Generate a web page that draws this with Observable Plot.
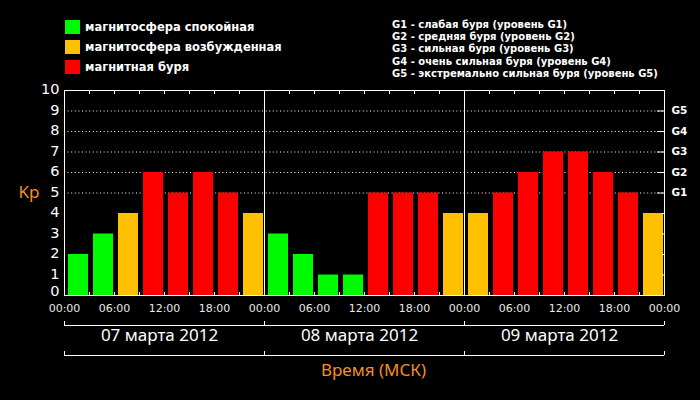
<!DOCTYPE html>
<html><head><meta charset="utf-8">
<script src="https://cdn.jsdelivr.net/npm/d3@7"></script>
<script src="https://cdn.jsdelivr.net/npm/@observablehq/plot@0.6"></script>
<style>
html,body{margin:0;padding:0;background:#000;}
#wrap{position:relative;width:700px;height:400px;background:#000;overflow:hidden;}
#legend{position:relative;height:80px;}
#lgL{position:absolute;left:65px;top:17px;font:bold 11.5px "DejaVu Sans";color:#fff;}
#lgL .row{display:flex;align-items:center;height:20px;}
#lgL .sw{width:15px;height:14px;margin-right:5px;}
#lgR{position:absolute;left:392px;top:19px;font:bold 10px "DejaVu Sans";color:#fff;line-height:12.2px;white-space:pre;}
svg{display:block;}
</style></head>
<body><div id="wrap"><div id="legend"><div id="lgL"></div><div id="lgR"></div></div><div id="chart"></div></div>
<script>
// ---- data ----
const dayLabels = ["07 марта 2012", "08 марта 2012", "09 марта 2012"];
const kp07 = [2, 3, 4, 6, 5, 6, 5, 4];
const kp08 = [3, 2, 1, 1, 5, 5, 5, 4];
const kp09 = [4, 5, 6, 7, 7, 6, 5, 4];
const levelKeys = ["quiet", "active", "storm"];
const levelNames = ["магнитосфера спокойная", "магнитосфера возбужденная", "магнитная буря"];
const levelColors = ["#00fa00", "#ffc000", "#ff0000"];
const gLevels = [5, 6, 7, 8, 9];
const gNames = ["G1", "G2", "G3", "G4", "G5"];
const gDescriptions = [
  "G1 - слабая буря (уровень G1)",
  "G2 - средняя буря (уровень G2)",
  "G3 - сильная буря (уровень G3)",
  "G4 - очень сильная буря (уровень G4)",
  "G5 - экстремально сильная буря (уровень G5)"
];
const yTicks = [0,1,2,3,4,5,6,7,8,9,10];
const xTitle = "Время (МСК)";
const yTitle = "Kp";
const orange = "#f39020";

// ---- legend ----
const lgL = document.getElementById("lgL");
levelNames.forEach((n, i) => {
  const r = document.createElement("div"); r.className = "row";
  const s = document.createElement("div"); s.className = "sw"; s.style.background = levelColors[i];
  const t = document.createElement("span"); t.textContent = n;
  r.appendChild(s); r.appendChild(t); lgL.appendChild(r);
});
document.getElementById("lgR").textContent = gDescriptions.join("\n");

// ---- build table ----
const H = 3600 * 1000;
const start = new Date(Date.UTC(2012, 2, 7));
const end = new Date(Date.UTC(2012, 2, 10));
const allKp = [...kp07, ...kp08, ...kp09];
const bars = allKp.map((kp, i) => ({
  start: new Date(+start + i * 3 * H),
  end: new Date(+start + (i + 1) * 3 * H),
  kp,
  level: kp >= 5 ? "storm" : kp >= 4 ? "active" : "quiet"
}));
const days = dayLabels.map((label, i) => ({label, noon: new Date(+start + (i * 24 + 12) * H)}));
const bounds = d3.utcDay.range(start, new Date(+end + 1));
const inner = bounds.slice(1, -1);
const t3 = d3.utcHour.every(3).range(start, new Date(+end + 1));
const t6 = d3.utcHour.every(6).range(start, new Date(+end + 1));
const fmt = d3.utcFormat("%H:%M");

const chart = Plot.plot({
  width: 700, height: 320,
  marginTop: 10, marginRight: 36, marginBottom: 105, marginLeft: 64,
  style: {background: "#000", color: "#fff", fontFamily: "DejaVu Sans", overflow: "visible"},
  x: {type: "utc", domain: [start, end], label: null},
  y: {domain: [0, 10], label: null},
  color: {domain: levelKeys, range: levelColors},
  marks: [
    Plot.ruleY(gLevels, {stroke: "#fff", strokeDasharray: "1,2.6"}),
    Plot.rectY(bars, {x1: "start", x2: "end", y: "kp", fill: "level", insetLeft: 4, insetRight: 1}),
    Plot.ruleX(inner, {stroke: "#fff"}),
    Plot.frame({stroke: "#fff"}),
    Plot.axisX(t3, {anchor: "top", tickSize: -3, tickFormat: () => "", label: null}),
    Plot.axisX(t3, {anchor: "bottom", tickSize: -3, tickFormat: () => "", label: null}),
    Plot.axisX(t6, {anchor: "bottom", tickSize: 0, tickPadding: 9, tickFormat: fmt, fontSize: 11, fill: "#e8e8e8", label: null}),
    Plot.axisY(yTicks.filter(v => v > 0), {anchor: "left", tickSize: 0, tickPadding: 5, dy: -1, fontSize: 14.5, fill: "#fff", label: null}),
    Plot.axisY(yTicks.filter(v => v === 0), {anchor: "left", tickSize: 0, tickPadding: 5, dy: -4, fontSize: 14.5, fill: "#fff", label: null}),
    Plot.axisY(yTicks.filter(v => v > 0 && v < 5), {anchor: "right", tickSize: -3, tickFormat: () => "", label: null}),
    Plot.axisY(gLevels, {anchor: "right", tickSize: -8, tickFormat: () => "", label: null}),
    Plot.axisY(gLevels, {anchor: "right", tickSize: 0, tickPadding: 7, tickFormat: (d) => gNames[gLevels.indexOf(d)], fontSize: 10.5, fontWeight: "bold", fill: "#fff", label: null}),
    Plot.text([yTitle], {frameAnchor: "left", y: [5], text: d => d, dx: -46, fill: orange, fontSize: 17, fontFamily: "Noto Sans"}),
    Plot.ruleY([0], {stroke: "#fff", dy: 30}),
    Plot.ruleY([0], {stroke: "#fff", dy: 60}),
    Plot.axisX(bounds, {anchor: "bottom", tickSize: -4, tickFormat: () => "", dy: 30, label: null}),
    Plot.axisX(bounds, {anchor: "bottom", tickSize: -4, tickFormat: () => "", dy: 60, label: null}),
    Plot.text(days, {x: "noon", text: "label", frameAnchor: "bottom", dy: 45, dx: -5, fill: "#fff", fontSize: 17, fontFamily: "Noto Sans"}),
    Plot.text([xTitle], {frameAnchor: "bottom", text: d => d, dy: 80, dx: 9, fill: orange, fontSize: 17, fontFamily: "Noto Sans"})
  ]
});
document.getElementById("chart").appendChild(chart);
</script>
</body></html>
